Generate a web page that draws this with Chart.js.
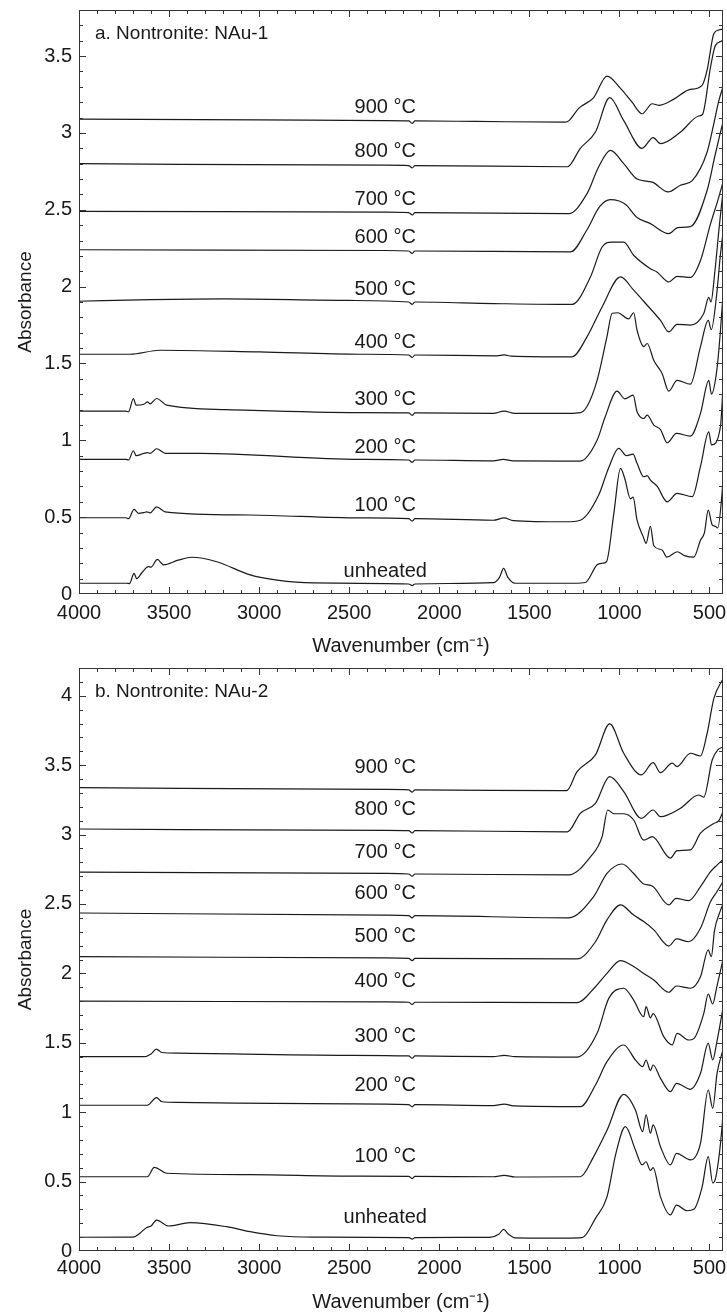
<!DOCTYPE html>
<html>
<head>
<meta charset="utf-8">
<script src="https://cdn.jsdelivr.net/npm/chart.js@4.4.1/dist/chart.umd.min.js"></script>
<style>
  html, body { margin: 0; padding: 0; background: #fff; }
  #wrap { position: relative; width: 727px; height: 1316px; }
  canvas { position: absolute; left: 0; }
</style>
</head>
<body>
<div id="wrap">
  <canvas id="panelA" width="727" height="656" style="top:0"></canvas>
  <canvas id="panelB" width="727" height="660" style="top:656px"></canvas>
</div>
<script>
// Nombres de las curvas (de abajo hacia arriba)
const curveNames = ['unheated', '100 °C', '200 °C', '300 °C', '400 °C', '500 °C', '600 °C', '700 °C', '800 °C', '900 °C']

// Marcas del eje x (cm-1) y del eje y
const wnTicks = [500, 1000, 1500, 2000, 2500, 3000, 3500, 4000]
const absTicksA = [0, 0.5, 1, 1.5, 2, 2.5, 3, 3.5]
const absTicksB = [0, 0.5, 1, 1.5, 2, 2.5, 3, 3.5, 4]

// a. Nontronite: NAu-1  -> pares [numero de onda (cm-1), absorbancia]
const a_unheated = [[4000,0.07],[3735,0.07],[3720,0.068],[3694,0.134],[3680,0.10],[3650,0.14],[3615,0.178],[3600,0.175],[3565,0.225],[3531,0.19],[3450,0.22],[3374,0.239],[3235,0.21],[3050,0.124],[2900,0.09],[2700,0.072],[2170,0.065],[2150,0.055],[2135,0.065],[1700,0.074],[1665,0.11],[1643,0.167],[1620,0.11],[1580,0.07],[1250,0.07],[1189,0.075],[1124,0.19],[1096,0.20],[1072,0.21],[1031,0.525],[994,0.817],[970,0.75],[939,0.62],[924,0.63],[902,0.48],[867,0.37],[852,0.33],[828,0.44],[809,0.314],[763,0.286],[737,0.24],[679,0.275],[639,0.25],[587,0.24],[550,0.35],[528,0.40],[507,0.546],[485,0.45],[467,0.44],[454,0.43],[430,0.66],[425,0.75]]
const a_100 = [[4000,0.496],[3740,0.496],[3725,0.49],[3694,0.55],[3670,0.525],[3640,0.53],[3624,0.535],[3605,0.528],[3569,0.567],[3522,0.535],[3050,0.514],[2440,0.495],[2170,0.49],[2150,0.474],[2135,0.49],[1700,0.48],[1640,0.495],[1590,0.478],[1300,0.47],[1217,0.48],[1115,0.644],[1060,0.82],[1004,0.947],[960,0.90],[924,0.91],[902,0.85],[865,0.763],[846,0.77],[828,0.741],[790,0.70],[735,0.60],[680,0.655],[596,0.633],[550,0.83],[504,1.055],[489,0.97],[439,1.09],[425,1.35]]
const a_200 = [[4000,0.876],[3740,0.876],[3725,0.872],[3698,0.932],[3683,0.90],[3640,0.915],[3620,0.92],[3605,0.915],[3569,0.945],[3520,0.915],[3328,0.915],[2440,0.876],[2170,0.872],[2150,0.856],[2135,0.872],[1700,0.866],[1644,0.876],[1590,0.866],[1217,0.865],[1124,1.0],[1080,1.15],[1013,1.32],[970,1.27],[924,1.294],[902,1.186],[865,1.142],[846,1.164],[809,1.099],[772,1.07],[735,0.984],[683,1.045],[606,1.027],[550,1.175],[504,1.39],[489,1.30],[460,1.45],[440,1.7],[425,1.95]]
const a_300 = [[4000,1.19],[3740,1.19],[3725,1.185],[3698,1.272],[3683,1.229],[3640,1.235],[3620,1.25],[3605,1.237],[3569,1.272],[3513,1.229],[3180,1.20],[2440,1.18],[2170,1.178],[2150,1.162],[2135,1.178],[1700,1.175],[1640,1.19],[1580,1.175],[1280,1.175],[1217,1.18],[1180,1.22],[1124,1.39],[1070,1.67],[1040,1.827],[1010,1.83],[949,1.79],[921,1.83],[902,1.716],[865,1.61],[846,1.63],[809,1.52],[763,1.435],[726,1.32],[680,1.39],[606,1.365],[550,1.61],[507,1.78],[490,1.72],[460,1.95],[440,2.2],[425,2.35]]
const a_400 = [[4000,1.56],[3717,1.56],[3550,1.586],[3000,1.575],[2440,1.56],[2170,1.555],[2150,1.539],[2135,1.555],[1680,1.55],[1640,1.556],[1600,1.548],[1263,1.543],[1180,1.673],[1096,1.868],[994,2.063],[921,1.977],[846,1.879],[772,1.78],[726,1.706],[680,1.755],[606,1.75],[532,1.825],[504,1.93],[492,1.90],[470,2.1],[445,2.4],[425,2.62]]
const a_500 = [[4000,1.905],[3600,1.915],[3200,1.92],[2500,1.91],[2170,1.9],[2150,1.884],[2135,1.9],[1700,1.89],[1263,1.884],[1161,2.063],[1096,2.258],[1041,2.29],[976,2.29],[921,2.204],[828,2.117],[792,2.096],[726,2.03],[680,2.067],[606,2.06],[550,2.17],[494,2.41],[454,2.56],[425,2.68]]
const a_600 = [[4000,2.24],[2300,2.235],[2170,2.232],[2150,2.216],[2135,2.232],[1272,2.226],[1180,2.37],[1110,2.52],[1050,2.566],[967,2.536],[902,2.45],[828,2.41],[726,2.345],[676,2.384],[606,2.39],[513,2.627],[470,2.85],[440,3.0],[425,3.07]]
const a_700 = [[4000,2.49],[2300,2.485],[2170,2.482],[2150,2.466],[2135,2.482],[1282,2.475],[1180,2.605],[1115,2.78],[1050,2.887],[976,2.80],[902,2.70],[818,2.68],[730,2.616],[661,2.66],[596,2.69],[513,2.876],[476,3.06],[448,3.21],[425,3.3]]
const a_800 = [[4000,2.80],[2300,2.79],[2170,2.788],[2150,2.772],[2135,2.788],[1289,2.78],[1217,2.90],[1133,3.006],[1054,3.23],[976,3.08],[874,2.90],[813,2.97],[772,2.93],[661,3.006],[560,3.11],[539,3.12],[494,3.43],[467,3.57],[430,3.60],[425,3.61]]
const a_900 = [[4000,3.09],[3000,3.085],[2300,3.08],[2170,3.078],[2150,3.062],[2135,3.078],[1800,3.075],[1300,3.07],[1280,3.08],[1226,3.16],[1143,3.23],[1069,3.37],[994,3.29],[930,3.2],[874,3.125],[818,3.19],[782,3.18],[698,3.22],[615,3.28],[541,3.31],[513,3.41],[476,3.645],[448,3.67],[425,3.675]]

// b. Nontronite: NAu-2
const b_unheated = [[4000,0.099],[3700,0.10],[3660,0.13],[3624,0.17],[3600,0.18],[3569,0.223],[3504,0.18],[3383,0.204],[3180,0.175],[3050,0.139],[2900,0.11],[2700,0.10],[2170,0.097],[2150,0.085],[2135,0.097],[1720,0.098],[1670,0.12],[1643,0.156],[1615,0.12],[1580,0.095],[1300,0.093],[1207,0.096],[1133,0.235],[1069,0.39],[1020,0.70],[967,0.896],[911,0.728],[874,0.62],[852,0.643],[828,0.58],[813,0.60],[772,0.39],[717,0.26],[683,0.33],[624,0.29],[587,0.30],[541,0.46],[507,0.68],[482,0.49],[465,0.53],[430,0.90],[425,1.0]]
const b_100 = [[4000,0.535],[3620,0.535],[3582,0.603],[3513,0.56],[3050,0.55],[2500,0.54],[2170,0.538],[2150,0.522],[2135,0.538],[1700,0.535],[1640,0.545],[1580,0.533],[1217,0.535],[1143,0.68],[1069,0.87],[976,1.129],[911,1.016],[871,0.86],[852,0.98],[828,0.848],[813,0.908],[772,0.751],[717,0.62],[683,0.704],[606,0.656],[550,0.776],[507,1.16],[482,1.028],[458,1.28],[425,1.45]]
const b_200 = [[4000,1.05],[3620,1.05],[3570,1.105],[3540,1.075],[3450,1.07],[2500,1.06],[2170,1.055],[2150,1.039],[2135,1.055],[1700,1.048],[1640,1.058],[1580,1.045],[1217,1.04],[1133,1.196],[1069,1.364],[976,1.484],[911,1.376],[871,1.328],[852,1.376],[828,1.30],[813,1.34],[772,1.244],[717,1.148],[683,1.208],[606,1.165],[550,1.28],[507,1.496],[482,1.376],[460,1.5],[425,1.75]]
const b_300 = [[4000,1.40],[3640,1.40],[3600,1.42],[3570,1.455],[3540,1.43],[3450,1.425],[2500,1.41],[2170,1.405],[2150,1.389],[2135,1.405],[1700,1.40],[1640,1.41],[1580,1.40],[1235,1.397],[1124,1.568],[1059,1.82],[976,1.893],[921,1.808],[865,1.688],[852,1.76],[828,1.68],[813,1.71],[754,1.544],[707,1.484],[680,1.568],[615,1.52],[587,1.53],[532,1.71],[507,1.85],[482,1.78],[460,1.9],[425,2.1]]
const b_400 = [[4000,1.80],[2300,1.795],[2170,1.792],[2150,1.776],[2135,1.792],[1235,1.789],[1133,1.904],[1069,2.0],[994,2.092],[921,2.049],[865,2.0],[809,1.952],[726,1.864],[683,1.909],[606,1.893],[550,1.976],[507,2.169],[490,2.12],[472,2.31],[440,2.45],[425,2.5]]
const b_500 = [[4000,2.12],[2300,2.112],[2170,2.108],[2150,2.092],[2135,2.108],[1235,2.104],[1133,2.228],[1069,2.385],[994,2.493],[921,2.42],[865,2.373],[809,2.313],[726,2.197],[683,2.248],[615,2.228],[550,2.325],[494,2.517],[458,2.59],[425,2.66]]
const b_600 = [[4000,2.435],[2300,2.42],[2170,2.416],[2150,2.40],[2135,2.416],[1282,2.40],[1143,2.553],[1069,2.72],[985,2.788],[921,2.72],[865,2.644],[818,2.63],[726,2.493],[686,2.541],[615,2.524],[550,2.625],[494,2.733],[458,2.78],[425,2.82]]
const b_700 = [[4000,2.73],[2300,2.72],[2170,2.716],[2150,2.70],[2135,2.716],[1282,2.709],[1161,2.84],[1096,2.985],[1065,3.177],[1030,3.15],[976,3.15],[921,3.105],[865,2.96],[818,2.985],[717,2.83],[680,2.884],[606,2.89],[550,3.01],[476,3.08],[448,3.10],[425,3.165]]
const b_800 = [[4000,3.04],[2300,3.03],[2170,3.028],[2150,3.012],[2135,3.028],[1289,3.02],[1217,3.153],[1133,3.225],[1054,3.417],[976,3.31],[878,3.117],[813,3.177],[772,3.129],[661,3.19],[560,3.285],[532,3.27],[485,3.537],[454,3.61],[425,3.63]]
const b_900 = [[4000,3.338],[2300,3.325],[2170,3.322],[2150,3.306],[2135,3.322],[1294,3.316],[1235,3.453],[1133,3.574],[1054,3.797],[976,3.586],[878,3.43],[813,3.518],[772,3.446],[707,3.514],[680,3.49],[606,3.586],[550,3.566],[513,3.73],[476,3.98],[430,4.11],[425,4.12]]

const FONT = '"Liberation Sans", Arial, sans-serif'
const INK = '#1a1a1a'

// Marco con marcas hacia adentro en los cuatro lados
const frameTicks = {
  id: 'frameTicks',
  afterDatasetsDraw(chart) {
    const { ctx, chartArea: a, scales: { x, y } } = chart
    ctx.save()
    ctx.strokeStyle = '#333'
    ctx.lineWidth = 1
    ctx.strokeRect(a.left + 0.5, a.top + 0.5, a.right - a.left - 1, a.bottom - a.top - 1)
    ctx.beginPath()
    for (let w = 500; w < 4000; w += 100) {
      const px = Math.round(x.getPixelForValue(w)) + 0.5
      const len = w % 500 === 0 ? 7 : 4
      ctx.moveTo(px, a.bottom); ctx.lineTo(px, a.bottom - len)
      ctx.moveTo(px, a.top); ctx.lineTo(px, a.top + len)
    }
    for (let i = 1; i * 0.1 < y.max - 0.01; i++) {
      const py = Math.round(y.getPixelForValue(i * 0.1)) + 0.5
      const len = i % 5 === 0 ? 7 : 4
      ctx.moveTo(a.left, py); ctx.lineTo(a.left + len, py)
      ctx.moveTo(a.right, py); ctx.lineTo(a.right - len, py)
    }
    ctx.stroke()
    ctx.restore()
  }
}

// Etiquetas de cada curva y titulo del panel
const curveLabels = {
  id: 'curveLabels',
  afterDatasetsDraw(chart, args, opts) {
    const { ctx, chartArea: a, scales: { x, y } } = chart
    ctx.save()
    ctx.fillStyle = INK
    ctx.font = '20px ' + FONT
    ctx.textAlign = 'center'
    ctx.textBaseline = 'middle'
    chart.data.datasets.forEach(ds => {
      const base = ds.data[0].y
      ctx.fillText(ds.label, x.getPixelForValue(opts.labelAt), y.getPixelForValue(base) - opts.lift)
    })
    ctx.textAlign = 'left'
    ctx.font = '19px ' + FONT
    ctx.fillText(opts.panel, a.left + 16, a.top + 24)
    ctx.restore()
  }
}

function drawPanel(id, curves, yMax, yTicks, panel, cfg) {
  const datasets = curves.map((c, i) => ({
    label: curveNames[i],
    data: c.map(p => ({ x: p[0], y: p[1] })),
    borderColor: INK,
    borderWidth: 1.2,
    pointRadius: 0,
    fill: false,
    cubicInterpolationMode: 'monotone'
  }))

  return new Chart(document.getElementById(id), {
    type: 'line',
    data: { datasets },
    options: {
      responsive: false,
      animation: false,
      devicePixelRatio: 1,
      layout: { padding: { top: cfg.top, right: 4, left: 0, bottom: 0 } },
      plugins: {
        legend: { display: false },
        tooltip: { enabled: false },
        curveLabels: { labelAt: 2300, lift: cfg.lift, panel }
      },
      scales: {
        x: {
          type: 'linear',
          reverse: true,
          min: 425,
          max: 4000,
          grid: { display: false, drawTicks: false },
          border: { display: false },
          afterBuildTicks: s => { s.ticks = wnTicks.map(v => ({ value: v })) },
          ticks: {
            autoSkip: false, maxRotation: 0,
            padding: cfg.xPad, color: INK, font: { family: FONT, size: 20 },
            callback: v => String(v)
          },
          title: {
            display: true, text: 'Wavenumber (cm⁻¹)', color: INK,
            font: { family: FONT, size: 20, lineHeight: 1 },
            padding: { top: 0, bottom: cfg.titlePad }
          },
          afterFit: s => { s.height = cfg.xH; s.paddingLeft = 0; s.paddingRight = 0 }
        },
        y: {
          min: 0,
          max: yMax,
          grid: { display: false, drawTicks: false },
          border: { display: false },
          afterBuildTicks: s => { s.ticks = yTicks.map(v => ({ value: v })) },
          ticks: {
            padding: 7, color: INK,
            font: { family: FONT, size: 20 },
            callback: v => String(v)
          },
          title: {
            display: true, text: 'Absorbance', color: INK,
            font: { family: FONT, size: 19 },
            padding: { top: 14, bottom: 0 }
          },
          afterFit: s => { s.width = 79; s.paddingTop = 0; s.paddingBottom = 0 }
        }
      }
    },
    plugins: [frameTicks, curveLabels]
  })
}

drawPanel('panelA',
  [a_unheated, a_100, a_200, a_300, a_400, a_500, a_600, a_700, a_800, a_900],
  3.8, absTicksA, 'a. Nontronite: NAu-1',
  { top: 10, xH: 62, xPad: 7, titlePad: 0, lift: 12 })

drawPanel('panelB',
  [b_unheated, b_100, b_200, b_300, b_400, b_500, b_600, b_700, b_800, b_900],
  4.2, absTicksB, 'b. Nontronite: NAu-2',
  { top: 12, xH: 65, xPad: 5, titlePad: 4, lift: 20 })
</script>
</body>
</html>
